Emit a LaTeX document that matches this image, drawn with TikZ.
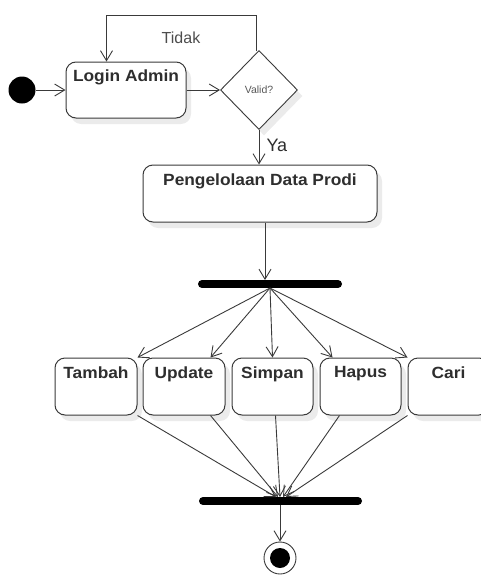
\documentclass[tikz,border=0pt]{standalone}
\usepackage{fontspec}
\setmainfont{Liberation Sans}
\newfontfamily\wideb[FakeStretch=1.07]{Liberation Sans Bold}
\usetikzlibrary{arrows.meta,shapes.geometric,shadows,calc}
\definecolor{ln}{HTML}{3A3A3A}
\definecolor{tx}{HTML}{2E2E2E}
\tikzset{
  sh/.style={drop shadow={shadow xshift=5pt,shadow yshift=-6pt,fill=black,opacity=0.08}},
  actbox/.style={draw=ln,line width=1pt,rounded corners=10pt,fill=white,sh,inner sep=0pt},
  acttext/.style={text=tx,font=\wideb\fontsize{16.2}{18}\selectfont,inner sep=0pt,anchor=north},
  flow/.style={draw=ln,line width=0.9pt,-{Straight Barb[length=10pt,width=12pt,line width=0.9pt]}},
  bar/.style={draw=black,line width=8pt,line cap=round},
}
\begin{document}
\begin{tikzpicture}[x=1pt,y=-1pt]
\useasboundingbox (0,0) rectangle (481,576);
% initial
\node[circle,fill=black,minimum size=27pt,inner sep=0pt] (init) at (22,90) {};
% Login
\node[actbox,minimum width=120pt,minimum height=56pt] (login) at (126,90) {};
\node[acttext] (logint) at ($(login.north)+(0,8)$) {Login Admin};
% diamond
\node[diamond,draw=ln,line width=0.9pt,fill=white,sh,minimum width=77pt,minimum height=79pt,inner sep=0pt,aspect=1] (valid) at (259,90) {};
\node[text=tx!80,font=\fontsize{10.5}{12}\selectfont] (validt) at (valid.center) {Valid?};
% Pengelolaan
\node[actbox,minimum width=234pt,minimum height=57pt] (peng) at (260,193.5) {};
\node[acttext] (pengt) at ($(peng.north)+(0,9)$) {Pengelolaan Data Prodi};
% fork / join bars
\coordinate (forkl) at (202,284);
\coordinate (forkr) at (338,284);
\draw[bar] (forkl) -- (forkr);
\coordinate (forkc) at (270,284);
\coordinate (joinl) at (203,501);
\coordinate (joinr) at (358,501);
\draw[bar] (joinl) -- (joinr);
\coordinate (joinc) at (280,501);
% actions
\node[actbox,minimum width=82pt,minimum height=57pt] (tambah) at (96,386.5) {};
\node[actbox,minimum width=82pt,minimum height=57pt] (update) at (184,386.5) {};
\node[actbox,minimum width=81pt,minimum height=57pt] (simpan) at (272.5,386.5) {};
\node[actbox,minimum width=81pt,minimum height=57pt] (hapus) at (360.5,386.5) {};
\node[actbox,minimum width=81pt,minimum height=57pt] (cari) at (448.5,386.5) {};
\node[acttext] (tambaht) at ($(tambah.north)+(0,9)$) {Tambah};
\node[acttext] (updatet) at ($(update.north)+(0,9)$) {Update};
\node[acttext] (simpant) at ($(simpan.north)+(0,9)$) {Simpan};
\node[acttext] (hapust) at ($(hapus.north)+(0,9)$) {Hapus};
\node[acttext] (carit) at ($(cari.north)+(0,9)$) {Cari};
% final
\node[circle,draw=ln,line width=0.9pt,fill=white,minimum size=32pt,inner sep=0pt] (final) at (280,558) {};
\node[circle,fill=black,minimum size=20pt,inner sep=0pt] (finalin) at (280,558) {};
% edges
\draw[flow] (init) -- (login.west);
\draw[flow] (login.east) -- (valid.west);
\draw[flow] ($(valid.north)+(-3,1)$) -- ++(0,-36) -| ($(login.north west)+(41,0)$);
\node[text=tx!85,font=\fontsize{16}{18}\selectfont] (tidak) at (181,38) {Tidak};
\draw[flow] (valid.south) -- (valid.south |- peng.north);
\node[text=tx,font=\fontsize{18}{20}\selectfont,anchor=west] (ya) at (263,145) {Ya};
\draw[flow] ($(peng.south)+(5,0)$) -- ($(forkc)+(-5,-4)$);
% fork arrows
\coordinate (fo) at (270,288);
\draw[flow] (fo) -- (tambah.north east);
\draw[flow] (fo) -- ($(update.north east)+(-15,0)$);
\draw[flow] (fo) -- (simpan.north);
\draw[flow] (fo) -- ($(hapus.north west)+(13,0)$);
\draw[flow] (fo) -- (cari.north west);
% join arrows
\coordinate (ji1) at (276,497);
\coordinate (ji2) at (278,497);
\coordinate (ji3) at (280,497);
\coordinate (ji4) at (283,497);
\coordinate (ji5) at (286,497);
\draw[flow] (tambah.south east) -- (ji1);
\draw[flow] ($(update.south east)+(-15,0)$) -- (ji2);
\draw[flow] ($(simpan.south)+(3,0)$) -- (ji3);
\draw[flow] ($(hapus.south west)+(20,0)$) -- (ji4);
\draw[flow] (cari.south west) -- (ji5);
\draw[flow] ($(joinc)+(0,4)$) -- (final.north);
\end{tikzpicture}
\end{document}
